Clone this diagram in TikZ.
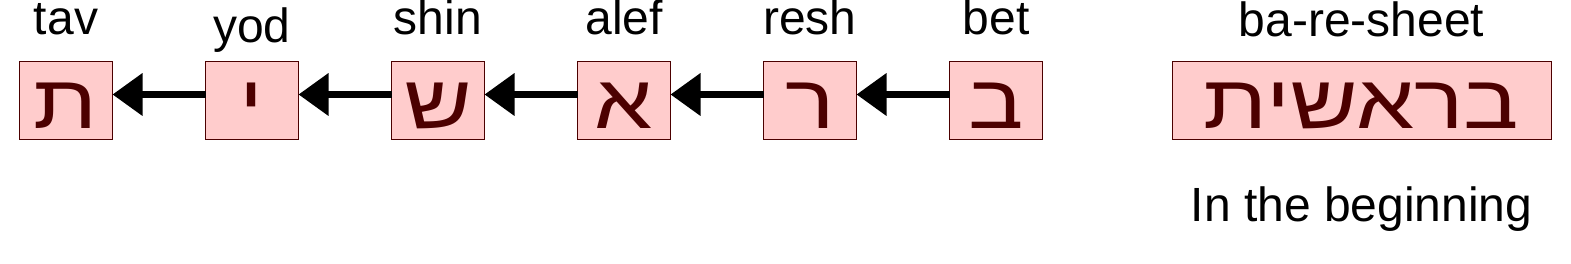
\documentclass[tikz,border=0pt]{standalone}
\usepackage{fontspec}
\setmainfont{Liberation Sans}
\newfontfamily\hebfont[Script=Hebrew, FakeStretch=1.22]{Liberation Sans}
\TeXXeTstate=1
\usetikzlibrary{arrows.meta,positioning}
\definecolor{hebfill}{HTML}{FFCCCC}
\definecolor{hebink}{HTML}{4C0000}
\tikzset{
  ltr/.style={draw=hebink, fill=hebfill, line width=1pt, inner sep=0pt, outer sep=0pt,
    minimum width=93pt, minimum height=78pt, text height=67pt, text depth=11pt,
    text=hebink, font=\hebfont\fontsize{76}{84}\selectfont},
  word/.style={ltr, minimum width=379pt},
  lbl/.style={anchor=base, inner sep=0pt, font=\fontsize{48}{52}\selectfont},
  arr/.style={-{Triangle[length=30pt, width=41pt]}, line width=7pt, color=black},
}
\begin{document}
\begin{tikzpicture}[x=1pt, y=-1pt, node distance=93pt]
  \useasboundingbox (0,0) rectangle (1571,264);
  % letters, read right to left
  \node[ltr] (bet) at (996,101) {ב};
  \node[ltr, left=of bet] (resh) {ר};
  \node[ltr, left=of resh] (alef) {א};
  \node[ltr, left=of alef] (shin) {ש};
  \node[ltr, left=of shin] (yod) {י};
  \node[ltr, left=of yod] (tav) {ת};
  \node[lbl] (betlbl) at ([yshift=27pt]bet.north) {bet};
  \node[lbl] (reshlbl) at ([yshift=27pt]resh.north) {resh};
  \node[lbl] (aleflbl) at ([yshift=27pt]alef.north) {alef};
  \node[lbl] (shinlbl) at ([yshift=27pt]shin.north) {shin};
  \node[lbl] (yodlbl) at ([yshift=19pt]yod.north) {yod};
  \node[lbl] (tavlbl) at ([yshift=27pt]tav.north) {tav};
  \draw[arr] ([yshift=6.5pt]bet.west) -- ([yshift=6.5pt]resh.east);
  \draw[arr] ([yshift=6.5pt]resh.west) -- ([yshift=6.5pt]alef.east);
  \draw[arr] ([yshift=6.5pt]alef.west) -- ([yshift=6.5pt]shin.east);
  \draw[arr] ([yshift=6.5pt]shin.west) -- ([yshift=6.5pt]yod.east);
  \draw[arr] ([yshift=6.5pt]yod.west) -- ([yshift=6.5pt]tav.east);
  % the whole word
  \node[word] (bereshit) at (1361.5,101) {\beginR בראשית\endR};
  \node[lbl] (wordlbl) at ([yshift=25pt]bereshit.north) {ba-re-sheet};
  \node[lbl] (meaning) at ([yshift=-82pt]bereshit.south) {In the beginning};
\end{tikzpicture}
\end{document}
